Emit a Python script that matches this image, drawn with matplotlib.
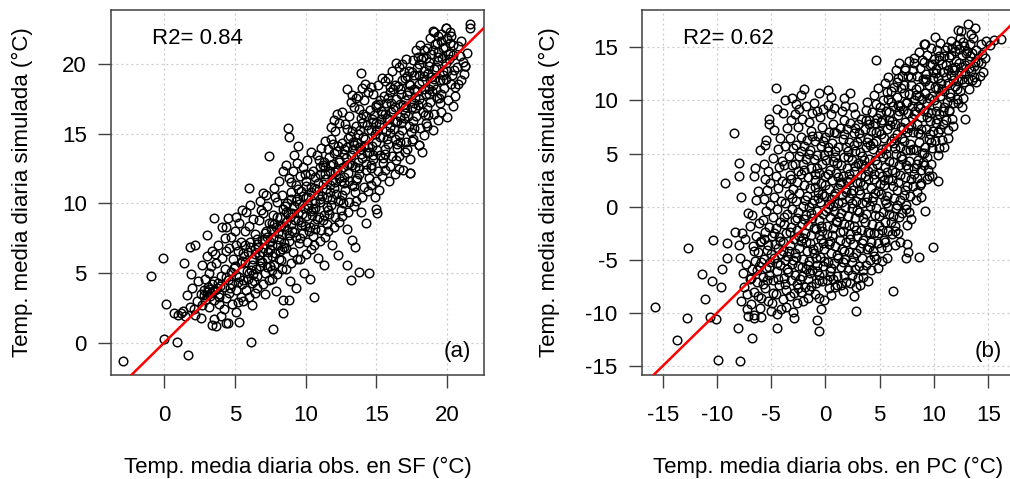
import numpy as np
import matplotlib.pyplot as plt

plt.rcParams['font.family'] = ['Liberation Sans', 'DejaVu Sans']
plt.rcParams['axes.unicode_minus'] = False

pts_sf = [
    (-2.9, -1.3), (-0.9, 4.8), (-0.1, 6.1), (0.1, 2.8), (0.0, 0.25), (0.9, 0.07), (1.7, -0.9),
    (0.7, 2.1), (1.2, 2.1), (1.4, 5.7), (1.8, 6.9), (2.2, 7.0), (3.0, 7.75), (3.5, 8.95),
    (4.5, 8.95), (4.1, 8.3), (3.4, 1.3), (4.4, 1.4), (5.3, 1.5), (5.1, 2.2), (6.15, 0.07),
    (7.7, 1.0), (8.4, 2.1), (6.0, 11.1), (7.0, 10.75), (7.4, 13.4), (8.75, 15.4), (8.8, 14.8),
    (9.45, 14.1), (10.6, 3.25), (13.95, 19.4), (12.9, 18.2), (13.3, 17.8), (13.7, 17.7),
    (15.05, 9.3), (14.5, 5.0), (13.8, 5.1), (13.2, 4.5), (17.4, 12.2), (16.6, 12.5),
    (18.0, 14.2), (20.8, 18.6), (21.3, 19.9), (21.6, 22.9), (21.6, 22.6), (19.0, 22.4), (19.9, 22.6),
    (1.0, 2.0), (1.3, 2.3), (1.5, 1.9), (1.8, 2.6), (2.1, 2.4), (2.3, 3.0), (1.6, 3.4), (2.0, 3.9),
    (2.4, 4.4), (1.9, 4.9), (2.6, 1.8), (2.2, 2.0),
    (2.6, 3.5), (2.8, 3.8), (3.0, 3.4), (3.1, 4.0), (3.3, 3.6), (3.4, 4.2), (2.9, 4.6), (3.2, 5.0),
    (2.7, 5.6), (3.0, 6.2), (3.4, 6.6), (2.7, 2.7), (3.2, 2.6), (3.5, 3.1), (2.9, 3.1), (3.3, 5.5),
    (3.5, 1.7), (3.7, 1.2),
    (3.6, 3.8), (3.8, 4.3), (3.9, 3.5), (4.0, 4.8), (4.2, 4.0), (4.3, 5.3), (3.7, 5.7), (4.1, 6.1),
    (4.4, 6.6), (3.8, 7.0), (4.3, 7.5), (3.9, 2.8), (4.2, 2.4), (4.4, 3.2), (4.0, 1.9), (4.5, 1.4),
    (4.4, 8.3), (3.6, 6.4), (4.5, 4.5),
    (4.6, 3.6), (4.7, 5.1), (4.8, 4.2), (4.9, 6.0), (5.0, 5.5), (5.1, 3.8), (5.2, 6.6), (5.3, 4.7),
    (5.4, 7.2), (4.7, 7.6), (5.0, 8.0), (5.3, 8.6), (4.8, 2.8), (5.2, 2.9), (5.4, 3.3), (5.5, 5.9),
    (4.6, 6.8), (5.1, 7.0), (5.5, 4.2), (5.5, 9.5), (5.1, 9.0),
    (5.6, 4.5), (5.7, 5.8), (5.8, 3.8), (5.9, 6.5), (6.0, 5.0), (6.1, 7.2), (6.2, 4.3), (6.3, 6.0),
    (6.4, 7.8), (5.7, 7.0), (6.0, 8.4), (6.3, 8.9), (5.8, 9.4), (6.1, 9.9), (5.6, 3.0), (6.0, 3.3),
    (6.4, 3.6), (6.2, 2.7), (6.5, 5.3), (6.4, 6.7), (5.9, 4.6), (6.2, 5.6),
    (6.6, 4.8), (6.7, 6.3), (6.8, 5.5), (6.9, 7.4), (7.0, 6.8), (7.1, 5.0), (7.2, 8.0), (7.3, 6.1),
    (7.4, 8.6), (6.7, 8.8), (7.0, 9.3), (7.3, 9.8), (6.8, 10.2), (7.2, 10.6), (6.6, 3.9), (7.0, 4.2),
    (7.4, 4.5), (7.1, 3.5), (7.5, 7.2), (6.9, 5.8), (7.5, 5.5), (7.3, 7.6), (6.6, 7.1),
    (7.6, 6.2), (7.7, 7.5), (7.8, 5.6), (7.9, 8.3), (8.0, 7.0), (8.1, 6.0), (8.2, 9.0), (8.3, 7.8),
    (8.4, 9.6), (7.7, 9.2), (8.0, 10.1), (8.3, 10.6), (7.8, 11.1), (8.1, 11.6), (8.4, 12.3), (7.6, 4.6),
    (8.0, 4.9), (8.3, 5.3), (7.9, 3.7), (8.4, 3.1), (8.5, 8.4), (7.6, 8.6), (8.2, 6.6), (8.5, 6.9),
    (8.6, 6.8), (8.7, 8.1), (8.8, 7.3), (8.9, 9.0), (9.0, 8.5), (9.1, 6.5), (9.2, 9.8), (9.3, 7.6),
    (9.4, 10.3), (8.7, 10.0), (9.0, 10.8), (9.3, 11.3), (8.8, 11.8), (9.1, 12.3), (9.4, 12.9), (8.6, 5.3),
    (9.0, 5.7), (9.4, 6.0), (8.9, 4.4), (9.3, 3.9), (8.8, 3.1), (9.5, 8.8), (8.6, 12.8), (9.2, 13.5),
    (9.5, 9.3), (8.6, 9.4),
    (9.6, 7.5), (9.7, 8.7), (9.8, 7.9), (9.9, 9.7), (10.0, 9.1), (10.1, 7.2), (10.2, 10.5), (10.3, 8.3),
    (10.4, 11.2), (9.7, 10.9), (10.0, 11.6), (10.3, 12.1), (9.8, 12.6), (10.1, 13.1), (10.4, 13.7),
    (9.6, 6.0), (10.0, 6.4), (10.4, 6.7), (9.9, 5.0), (10.3, 4.6), (10.5, 9.6), (9.6, 12.0), (10.2, 9.9),
    (10.5, 7.7),
    (10.6, 8.5), (10.7, 9.7), (10.8, 8.9), (10.9, 10.6), (11.0, 10.1), (11.1, 8.1), (11.2, 11.4),
    (11.3, 9.2), (11.4, 12.1), (10.7, 11.9), (11.0, 12.6), (11.3, 13.0), (10.8, 13.5), (11.1, 14.0),
    (11.4, 14.5), (10.6, 7.0), (11.0, 7.3), (11.4, 7.6), (10.9, 6.1), (11.3, 5.6), (11.5, 10.5),
    (10.6, 11.1), (11.2, 12.8), (11.5, 8.5),
    (11.6, 9.5), (11.7, 10.8), (11.8, 9.9), (11.9, 11.7), (12.0, 11.1), (12.1, 9.0), (12.2, 12.4),
    (12.3, 10.2), (12.4, 13.1), (11.7, 12.8), (12.0, 13.6), (12.3, 14.1), (11.8, 14.6), (12.1, 15.2),
    (12.4, 15.8), (11.6, 8.0), (12.0, 8.3), (12.4, 8.7), (11.9, 7.0), (12.3, 6.3), (12.5, 11.6),
    (11.6, 13.9), (12.2, 16.4), (12.5, 9.5), (12.0, 16.0), (11.8, 15.5),
    (12.6, 10.6), (12.7, 11.9), (12.8, 11.0), (12.9, 12.8), (13.0, 12.2), (13.1, 10.1), (13.2, 13.5),
    (13.3, 11.3), (13.4, 14.2), (12.7, 13.9), (13.0, 14.7), (13.3, 15.2), (12.8, 15.7), (13.1, 16.3),
    (13.4, 16.9), (12.6, 9.1), (13.0, 9.4), (13.4, 9.8), (12.9, 8.2), (13.3, 7.4), (13.5, 12.6),
    (12.6, 16.6), (13.2, 17.3), (13.5, 10.8), (12.9, 5.6), (13.5, 6.9),
    (13.6, 11.7), (13.7, 13.0), (13.8, 12.1), (13.9, 13.9), (14.0, 13.3), (14.1, 11.2), (14.2, 14.6),
    (14.3, 12.4), (14.4, 15.3), (13.7, 15.0), (14.0, 15.8), (14.3, 16.3), (13.8, 16.8), (14.1, 17.4),
    (14.4, 18.0), (13.6, 10.2), (14.0, 10.5), (14.4, 10.9), (13.9, 9.4), (14.3, 8.6), (14.5, 13.7),
    (13.6, 17.6), (14.2, 18.6), (14.5, 11.8), (14.0, 18.3),
    (14.6, 12.8), (14.7, 14.1), (14.8, 13.2), (14.9, 15.0), (15.0, 14.4), (15.1, 12.3), (15.2, 15.7),
    (15.3, 13.5), (15.4, 16.4), (14.7, 16.1), (15.0, 16.9), (15.3, 17.4), (14.8, 17.9), (15.1, 18.5),
    (15.4, 19.0), (14.6, 11.3), (15.0, 11.6), (15.4, 12.0), (14.9, 10.5), (15.2, 11.0), (15.5, 14.8),
    (14.6, 18.4), (15.5, 12.9), (15.0, 9.6),
    (15.6, 13.9), (15.7, 15.2), (15.8, 14.3), (15.9, 16.1), (16.0, 15.5), (16.1, 13.4), (16.2, 16.8),
    (16.3, 14.6), (16.4, 17.5), (15.7, 17.2), (16.0, 18.0), (16.3, 18.5), (15.8, 19.0), (16.1, 19.5),
    (16.4, 20.1), (15.6, 12.4), (16.0, 12.7), (16.4, 13.1), (15.9, 11.6), (16.3, 12.1), (16.5, 15.9),
    (15.6, 18.8), (16.5, 14.0),
    (16.6, 14.9), (16.7, 16.2), (16.8, 15.3), (16.9, 17.1), (17.0, 16.5), (17.1, 14.4), (17.2, 17.8),
    (17.3, 15.6), (17.4, 18.5), (16.7, 18.2), (17.0, 19.0), (17.3, 19.5), (16.8, 20.0), (17.1, 20.4),
    (17.4, 13.2), (16.6, 13.4), (17.0, 13.7), (16.9, 12.4), (17.4, 12.2), (17.5, 16.9), (16.6, 19.8),
    (17.5, 14.5), (17.2, 13.9),
    (17.6, 15.9), (17.7, 17.2), (17.8, 16.3), (17.9, 18.1), (18.0, 17.5), (18.1, 15.4), (18.2, 18.8),
    (18.3, 16.6), (18.4, 19.5), (17.7, 19.2), (18.0, 20.0), (18.3, 20.5), (17.8, 21.0), (18.1, 21.4),
    (17.6, 14.6), (18.0, 14.2), (18.4, 14.9), (18.5, 17.9), (17.6, 20.3), (18.5, 15.8), (18.2, 13.7),
    (18.4, 21.0),
    (18.6, 16.9), (18.7, 18.2), (18.8, 17.3), (18.9, 19.1), (19.0, 18.5), (19.1, 16.4), (19.2, 19.8),
    (19.3, 17.6), (19.4, 20.5), (18.7, 20.2), (19.0, 21.0), (19.3, 21.5), (18.8, 21.9), (19.1, 22.3),
    (18.6, 15.6), (19.0, 15.3), (19.4, 16.0), (19.5, 18.9), (18.6, 21.2), (19.5, 17.2), (19.4, 22.0),
    (19.6, 17.9), (19.7, 19.2), (19.8, 18.3), (19.9, 20.1), (20.0, 19.5), (20.1, 17.4), (20.2, 20.8),
    (20.3, 18.6), (20.4, 21.4), (19.7, 21.2), (20.0, 21.9), (20.3, 22.0), (19.9, 22.6), (19.6, 16.6),
    (20.0, 16.2), (20.4, 17.0), (20.5, 19.6), (19.6, 22.2), (20.2, 22.3),
    (20.6, 18.4), (20.7, 19.8), (20.9, 20.6), (21.0, 18.9), (21.2, 19.3), (21.1, 20.2), (21.4, 20.8),
    (21.3, 19.9), (20.8, 21.3), (20.6, 17.7), (21.0, 21.7),
    # denser core of the band
    (3.15, 3.85), (3.55, 4.45), (3.85, 3.25), (4.35, 4.75), (4.65, 3.95), (4.95, 5.35), (5.25, 4.35),
    (5.45, 5.75), (5.65, 6.25), (5.85, 5.15), (6.05, 6.85), (6.25, 4.95), (6.45, 6.35), (6.55, 7.45),
    (6.75, 5.95), (6.95, 6.55), (7.15, 7.85), (7.25, 5.45), (7.45, 6.75), (7.55, 8.15), (7.65, 7.05),
    (7.85, 6.45), (7.95, 9.05), (8.15, 7.45), (8.25, 8.35), (8.45, 7.15), (8.55, 9.85), (8.65, 8.65),
    (8.85, 7.75), (8.95, 10.35), (9.05, 9.35), (9.15, 7.95), (9.25, 8.85), (9.45, 11.05), (9.55, 9.95),
    (9.65, 8.45), (9.85, 10.55), (9.95, 8.35), (10.05, 11.25), (10.15, 9.65), (10.25, 8.05),
    (10.35, 10.85), (10.45, 9.15), (10.55, 12.35), (10.65, 10.05), (10.85, 11.45), (10.95, 9.05),
    (11.05, 12.15), (11.15, 10.55), (11.25, 8.85), (11.35, 12.65), (11.45, 11.05), (11.55, 9.75),
    (11.65, 13.35), (11.75, 11.35), (11.85, 10.35), (11.95, 12.85), (12.05, 12.25), (12.15, 10.65),
    (12.25, 13.75), (12.35, 11.85), (12.45, 10.25), (12.55, 14.35), (12.65, 12.65), (12.75, 11.45),
    (12.85, 13.25), (12.95, 14.05), (13.05, 11.65), (13.15, 14.85), (13.25, 12.75), (13.35, 13.95),
    (13.45, 11.25), (13.55, 15.55), (13.65, 14.35), (13.75, 12.55), (13.85, 15.25), (13.95, 13.55),
    (14.05, 16.45), (14.15, 14.15), (14.25, 12.85), (14.35, 15.65), (14.45, 14.05), (14.55, 16.75),
    (14.65, 15.25), (14.75, 13.45), (14.85, 16.35), (14.95, 15.75), (15.05, 13.85), (15.15, 17.15),
    (15.25, 14.75), (15.35, 16.05), (15.45, 13.25), (15.55, 17.75), (15.65, 16.45), (15.75, 14.65),
    (15.85, 17.55), (15.95, 15.05), (16.05, 16.55), (16.15, 18.25), (16.25, 15.35), (16.35, 16.95),
    (16.45, 14.25), (16.55, 18.45), (16.65, 17.15), (16.75, 15.75), (16.85, 18.85), (16.95, 16.15),
    (17.05, 17.45), (17.15, 19.15), (17.25, 16.25), (17.35, 18.05), (17.45, 15.15), (17.55, 19.45),
    (17.65, 18.25), (17.75, 16.85), (17.85, 19.75), (17.95, 17.05), (18.05, 18.55), (18.15, 20.35),
    (18.25, 17.25), (18.35, 19.15), (18.45, 16.35), (18.55, 20.45), (18.65, 19.35), (18.75, 17.85),
    (18.85, 20.75), (18.95, 18.05), (19.05, 19.65), (19.15, 21.45), (19.25, 18.25), (19.35, 20.25),
    (19.45, 17.55), (19.55, 21.65), (19.65, 20.45), (19.75, 18.85), (19.85, 21.25), (19.95, 18.95),
    (20.15, 20.35), (20.25, 21.55), (20.35, 19.25), (20.45, 20.65),
    (5.05, 4.85), (5.55, 6.45), (6.15, 5.25), (6.65, 6.85), (7.05, 7.45), (7.35, 6.55), (7.75, 8.55),
    (8.05, 7.85), (8.35, 6.75), (8.75, 9.35), (9.05, 8.05), (9.35, 10.15), (9.75, 9.25), (10.05, 10.45),
    (10.35, 9.45), (10.75, 11.05), (11.05, 10.35), (11.35, 11.75), (11.75, 12.35), (12.05, 11.55),
    (12.35, 12.95), (12.75, 13.55), (13.05, 12.85), (13.35, 14.45), (13.75, 14.05), (14.05, 14.75),
    (14.35, 13.65), (14.75, 15.85), (15.05, 15.25), (15.35, 16.65), (15.75, 16.15), (16.05, 17.25),
    (16.35, 15.85), (16.75, 17.85), (17.05, 16.95), (17.35, 18.55), (17.75, 17.65), (18.05, 19.25),
    (18.35, 18.25), (18.75, 19.85), (19.05, 18.95), (19.35, 20.85), (19.75, 19.55), (20.05, 20.75),
    (6.35, 4.45), (7.65, 5.25), (8.25, 5.95), (9.55, 7.15), (10.65, 8.15), (11.65, 9.25), (12.65, 10.05),
    (13.65, 11.85), (14.65, 12.55), (15.65, 13.55), (16.65, 14.45), (17.65, 15.45), (18.65, 16.35),
    (5.75, 8.05), (6.85, 9.55), (7.85, 10.45), (8.95, 11.55), (9.95, 12.15), (10.95, 13.15),
    (11.95, 14.25), (12.95, 15.35), (13.95, 16.15), (14.95, 17.05), (15.95, 18.35), (16.95, 19.45),
    (17.95, 20.55), (3.25, 3.35), (3.45, 3.75), (3.75, 3.95), (3.05, 3.65), (2.85, 3.45), (3.95, 4.05),
]

# panel (b): observed daily mean temp at PC vs simulated
pts_pc = [
    (-15.7, -9.4), (-13.7, -12.6), (-12.8, -10.5), (-12.7, -3.9), (-11.4, -6.3), (-11.1, -8.7),
    (-10.6, -10.4), (-10.1, -10.6), (-10.5, -7.0), (-10.4, -3.1), (-9.95, -14.45), (-9.6, -7.6),
    (-9.5, -5.9), (-9.1, -3.4), (-9.1, -4.8), (-9.3, 2.2), (-8.4, 6.9), (-7.95, 4.1), (-7.95, 2.9),
    (-7.8, 0.9), (-8.3, -2.4), (-8.0, -3.6), (-8.1, -11.4), (-7.9, -14.5), (-6.8, -12.4), (-6.6, -10.5),
    (-6.6, 2.9), (-7.1, -0.6), (-6.0, 5.3), (-5.7, 4.0), (-5.6, 5.8), (-5.2, 8.3), (-4.6, 11.2),
    (-4.5, 9.2), (-4.5, -11.4), (-2.9, -10.5), (-3.7, 10.0), (-3.1, 10.2), (-2.7, 9.7), (-2.0, 11.1),
    (-2.3, 10.5), (-0.6, 10.7), (0.2, 11.0), (0.5, 10.3), (2.3, 10.7), (1.7, 10.2), (3.8, 9.9),
    (4.7, 13.8), (-0.8, -10.7), (-0.6, -11.7), (2.8, -9.8), (6.2, -7.9), (7.4, -4.8), (7.6, -4.3),
    (8.6, -4.7), (9.9, -3.8), (7.5, -3.5), (9.15, -0.4), (10.4, 2.4), (9.5, 2.9), (8.8, 2.2),
    (12.9, 8.3), (11.3, 6.5), (13.55, 11.9), (14.2, 12.3), (14.3, 13.5), (16.2, 15.8), (13.1, 17.2),
    (13.4, 16.3), (13.8, 16.8), (12.2, 16.6), (10.1, 16.0), (9.1, 15.3),
    (-7.8, -8.9), (-7.5, -7.6), (-7.2, -9.6), (-7.6, -6.2), (-7.3, -5.4), (-7.9, -4.8), (-7.1, -10.3),
    (-7.4, -3.0), (-7.0, -1.8), (-7.7, -2.5), (-7.2, -8.2), (-7.0, -6.8),
    (-6.9, -9.2), (-6.6, -8.0), (-6.3, -7.1), (-6.8, -5.9), (-6.5, -5.1), (-6.2, -4.3), (-6.7, -3.7),
    (-6.4, -2.8), (-6.1, -1.5), (-6.8, -0.8), (-6.4, 0.6), (-6.2, 1.5), (-6.6, -10.2), (-6.0, -9.5),
    (-6.9, -6.7), (-6.3, -6.0), (-6.0, -3.3), (-6.5, 3.6),
    (-5.9, -8.6), (-5.6, -7.7), (-5.3, -8.9), (-5.8, -6.6), (-5.5, -5.8), (-5.2, -6.4), (-5.7, -4.9),
    (-5.4, -4.1), (-5.1, -5.2), (-5.9, -3.2), (-5.6, -2.4), (-5.3, -3.6), (-5.8, -1.3), (-5.5, -0.4),
    (-5.2, -1.9), (-5.7, 0.7), (-5.4, 1.6), (-5.1, 0.2), (-5.6, 2.6), (-5.3, 3.4), (-5.0, -9.8),
    (-5.9, -10.4), (-5.1, 2.2), (-5.5, 6.3), (-5.2, 7.8),
    (-4.9, -9.1), (-4.6, -8.2), (-4.3, -7.4), (-4.8, -6.9), (-4.5, -6.1), (-4.2, -5.5), (-4.7, -4.8),
    (-4.4, -3.9), (-4.1, -4.5), (-4.9, -2.8), (-4.6, -2.0), (-4.3, -2.9), (-4.8, -1.0), (-4.5, -0.2),
    (-4.2, -1.4), (-4.7, 0.9), (-4.4, 1.8), (-4.1, 0.5), (-4.6, 2.9), (-4.3, 3.7), (-4.0, 2.4),
    (-4.8, 4.6), (-4.4, 5.4), (-4.2, 6.5), (-4.7, 7.2), (-4.1, -9.6), (-4.5, -10.1), (-4.0, 4.3),
    (-3.9, -8.7), (-3.6, -7.8), (-3.3, -8.4), (-3.8, -6.7), (-3.5, -5.9), (-3.2, -6.9), (-3.7, -5.0),
    (-3.4, -4.2), (-3.1, -5.4), (-3.9, -3.3), (-3.6, -2.5), (-3.3, -3.6), (-3.8, -1.6), (-3.5, -0.7),
    (-3.2, -1.9), (-3.7, 0.3), (-3.4, 1.2), (-3.1, -0.2), (-3.6, 2.2), (-3.3, 3.0), (-3.0, 1.7),
    (-3.8, 3.9), (-3.4, 4.8), (-3.1, 3.9), (-3.7, 5.7), (-3.3, 6.5), (-3.0, 5.5), (-3.5, 7.4),
    (-3.2, 8.2), (-3.9, 8.8), (-3.6, -9.4), (-3.0, -9.9),
    (-2.9, -8.1), (-2.6, -7.3), (-2.3, -8.0), (-2.8, -6.4), (-2.5, -5.6), (-2.2, -6.5), (-2.7, -4.7),
    (-2.4, -3.9), (-2.1, -4.9), (-2.9, -3.0), (-2.6, -2.2), (-2.3, -3.2), (-2.8, -1.3), (-2.5, -0.5),
    (-2.2, -1.6), (-2.7, 0.5), (-2.4, 1.3), (-2.1, 0.1), (-2.6, 2.3), (-2.3, 3.1), (-2.0, 2.0),
    (-2.8, 4.0), (-2.4, 4.8), (-2.1, 4.0), (-2.7, 5.8), (-2.3, 6.6), (-2.0, 5.7), (-2.5, 7.5),
    (-2.2, 8.3), (-2.8, 8.7), (-2.4, 9.2), (-2.6, -9.1), (-2.1, -8.9),
    (-1.9, -7.6), (-1.6, -6.8), (-1.3, -7.5), (-1.8, -5.9), (-1.5, -5.1), (-1.2, -6.0), (-1.7, -4.2),
    (-1.4, -3.4), (-1.1, -4.4), (-1.9, -2.5), (-1.6, -1.7), (-1.3, -2.7), (-1.8, -0.8), (-1.5, 0.0),
    (-1.2, -1.1), (-1.7, 1.0), (-1.4, 1.8), (-1.1, 0.6), (-1.6, 2.8), (-1.3, 3.6), (-1.0, 2.5),
    (-1.8, 4.5), (-1.4, 5.3), (-1.1, 4.5), (-1.7, 6.3), (-1.3, 7.1), (-1.0, 6.2), (-1.5, 8.0),
    (-1.2, 8.8), (-1.8, 9.5), (-1.1, 9.8), (-1.6, -8.6), (-1.0, -8.2),
    (-0.9, -7.2), (-0.6, -6.4), (-0.3, -7.0), (-0.8, -5.5), (-0.5, -4.7), (-0.2, -5.6), (-0.7, -3.8),
    (-0.4, -3.0), (-0.1, -4.0), (-0.9, -2.1), (-0.6, -1.3), (-0.3, -2.3), (-0.8, -0.4), (-0.5, 0.4),
    (-0.2, -0.7), (-0.7, 1.4), (-0.4, 2.2), (-0.1, 1.0), (-0.6, 3.2), (-0.3, 4.0), (0.0, 2.9),
    (-0.8, 4.9), (-0.4, 5.7), (-0.1, 4.9), (-0.7, 6.7), (-0.3, 7.5), (0.0, 6.6), (-0.5, 8.4),
    (-0.2, 9.2), (-0.8, 9.0), (-0.6, -8.6), (-0.1, -8.8), (-0.4, -9.6),
    (0.1, -6.9), (0.4, -6.1), (0.7, -6.8), (0.2, -5.2), (0.5, -4.4), (0.8, -5.3), (0.3, -3.5),
    (0.6, -2.7), (0.9, -3.7), (0.1, -1.8), (0.4, -1.0), (0.7, -2.0), (0.2, -0.1), (0.5, 0.7),
    (0.8, -0.4), (0.3, 1.7), (0.6, 2.5), (0.9, 1.3), (0.4, 3.5), (0.7, 4.3), (1.0, 3.2), (0.2, 5.2),
    (0.6, 6.0), (0.9, 5.2), (0.3, 7.0), (0.7, 7.8), (1.0, 6.9), (0.5, 8.7), (0.8, 9.3), (0.2, 9.6),
    (0.5, -8.3), (0.9, -7.6), (0.3, -7.7),
    (1.1, -6.5), (1.4, -5.7), (1.7, -6.4), (1.2, -4.8), (1.5, -4.0), (1.8, -4.9), (1.3, -3.1),
    (1.6, -2.3), (1.9, -3.3), (1.1, -1.4), (1.4, -0.6), (1.7, -1.6), (1.2, 0.3), (1.5, 1.1),
    (1.8, 0.0), (1.3, 2.1), (1.6, 2.9), (1.9, 1.7), (1.4, 3.9), (1.7, 4.7), (2.0, 3.6), (1.2, 5.6),
    (1.6, 6.4), (1.9, 5.6), (1.3, 7.4), (1.7, 8.2), (2.0, 7.3), (1.5, 9.0), (1.8, 9.5), (1.1, -7.4),
    (1.6, -7.9), (1.9, -7.1),
    (2.1, -6.0), (2.4, -5.2), (2.7, -5.9), (2.2, -4.3), (2.5, -3.5), (2.8, -4.4), (2.3, -2.6),
    (2.6, -1.8), (2.9, -2.8), (2.1, -0.9), (2.4, -0.1), (2.7, -1.1), (2.2, 0.8), (2.5, 1.6),
    (2.8, 0.5), (2.3, 2.6), (2.6, 3.4), (2.9, 2.2), (2.4, 4.4), (2.7, 5.2), (3.0, 4.1), (2.2, 6.1),
    (2.6, 6.9), (2.9, 6.1), (2.3, 7.9), (2.7, 8.7), (3.0, 7.8), (2.5, 9.4), (2.8, -7.6), (2.3, -7.2),
    (3.0, -6.7), (2.6, -8.4),
    (3.1, -5.6), (3.4, -4.8), (3.7, -5.5), (3.2, -3.9), (3.5, -3.1), (3.8, -4.0), (3.3, -2.2),
    (3.6, -1.4), (3.9, -2.4), (3.1, -0.5), (3.4, 0.3), (3.7, -0.7), (3.2, 1.2), (3.5, 2.0),
    (3.8, 0.9), (3.3, 3.0), (3.6, 3.8), (3.9, 2.6), (3.4, 4.8), (3.7, 5.6), (4.0, 4.5), (3.2, 6.5),
    (3.6, 7.3), (3.9, 6.5), (3.3, 8.3), (3.7, 9.1), (4.0, 8.2), (3.5, -6.6), (3.9, -7.0), (3.2, -7.4),
    (4.1, -5.0), (4.4, -4.2), (4.7, -4.9), (4.2, -3.3), (4.5, -2.5), (4.8, -3.4), (4.3, -1.6),
    (4.6, -0.8), (4.9, -1.8), (4.1, 0.1), (4.4, 0.9), (4.7, -0.1), (4.2, 1.8), (4.5, 2.6),
    (4.8, 1.5), (4.3, 3.6), (4.6, 4.4), (4.9, 3.2), (4.4, 5.4), (4.7, 6.2), (5.0, 5.1), (4.2, 7.1),
    (4.6, 7.9), (4.9, 7.1), (4.3, 8.9), (4.7, 9.7), (5.0, 8.8), (4.5, 10.5), (4.8, 11.2), (4.2, -6.0),
    (4.8, -5.8),
    (5.1, -3.9), (5.4, -3.1), (5.7, -3.8), (5.2, -2.2), (5.5, -1.4), (5.8, -2.3), (5.3, -0.5),
    (5.6, 0.3), (5.9, -0.7), (5.1, 1.2), (5.4, 2.0), (5.7, 1.0), (5.2, 2.9), (5.5, 3.7), (5.8, 2.6),
    (5.3, 4.7), (5.6, 5.5), (5.9, 4.3), (5.4, 6.5), (5.7, 7.3), (6.0, 6.2), (5.2, 8.2), (5.6, 9.0),
    (5.9, 8.2), (5.3, 10.0), (5.7, 10.8), (6.0, 9.9), (5.5, 11.6), (5.8, 12.2), (5.2, -5.1), (5.7, -4.8),
    (6.1, -2.6), (6.4, -1.8), (6.7, -2.5), (6.2, -0.9), (6.5, -0.1), (6.8, -1.0), (6.3, 0.8),
    (6.6, 1.6), (6.9, 0.6), (6.1, 2.5), (6.4, 3.3), (6.7, 2.3), (6.2, 4.2), (6.5, 5.0), (6.8, 3.9),
    (6.3, 6.0), (6.6, 6.8), (6.9, 5.6), (6.4, 7.8), (6.7, 8.6), (7.0, 7.5), (6.2, 9.5), (6.6, 10.3),
    (6.9, 9.5), (6.3, 11.3), (6.7, 12.1), (7.0, 11.2), (6.5, 12.9), (6.8, 13.5), (6.4, -3.6), (6.9, -3.3),
    (7.1, -0.6), (7.4, 0.2), (7.7, -0.5), (7.2, 1.1), (7.5, 1.9), (7.8, 1.0), (7.3, 2.8), (7.6, 3.6),
    (7.9, 2.6), (7.1, 4.5), (7.4, 5.3), (7.7, 4.3), (7.2, 6.2), (7.5, 7.0), (7.8, 5.9), (7.3, 8.0),
    (7.6, 8.8), (7.9, 7.6), (7.4, 9.8), (7.7, 10.6), (8.0, 9.5), (7.2, 11.5), (7.6, 12.3), (7.9, 11.5),
    (7.3, 13.1), (7.7, 13.7), (7.5, -1.7), (7.9, -1.2),
    (8.1, 1.9), (8.4, 2.7), (8.7, 2.0), (8.2, 3.6), (8.5, 4.4), (8.8, 3.5), (8.3, 5.3), (8.6, 6.1),
    (8.9, 5.1), (8.1, 7.0), (8.4, 7.8), (8.7, 6.8), (8.2, 8.7), (8.5, 9.5), (8.8, 8.4), (8.3, 10.5),
    (8.6, 11.3), (8.9, 10.1), (8.4, 12.3), (8.7, 13.1), (9.0, 12.0), (8.2, 14.0), (8.6, 14.6),
    (8.9, 13.8), (8.3, 0.6), (8.8, 0.9),
    (9.1, 3.9), (9.4, 4.7), (9.7, 4.0), (9.2, 5.6), (9.5, 6.4), (9.8, 5.5), (9.3, 7.3), (9.6, 8.1),
    (9.9, 7.1), (9.1, 9.0), (9.4, 9.8), (9.7, 8.8), (9.2, 10.7), (9.5, 11.5), (9.8, 10.4), (9.3, 12.5),
    (9.6, 13.3), (9.9, 12.1), (9.4, 14.3), (9.7, 14.9), (10.0, 13.9), (9.2, 15.3), (9.8, 2.9), (9.4, 2.6),
    (10.1, 6.2), (10.4, 7.0), (10.7, 6.3), (10.2, 7.9), (10.5, 8.7), (10.8, 7.8), (10.3, 9.6),
    (10.6, 10.4), (10.9, 9.4), (10.1, 11.3), (10.4, 12.1), (10.7, 11.1), (10.2, 13.0), (10.5, 13.8),
    (10.8, 12.7), (10.3, 14.8), (10.6, 15.4), (10.9, 14.2), (10.4, 4.9), (10.9, 5.6),
    (11.1, 8.2), (11.4, 9.0), (11.7, 8.3), (11.2, 9.9), (11.5, 10.7), (11.8, 9.8), (11.3, 11.6),
    (11.6, 12.4), (11.9, 11.4), (11.1, 13.3), (11.4, 14.1), (11.7, 13.1), (11.2, 15.0), (11.6, 15.6),
    (11.9, 14.7), (11.3, 7.2), (11.8, 7.6),
    (12.1, 10.1), (12.4, 10.9), (12.7, 10.2), (12.2, 11.8), (12.5, 12.6), (12.8, 11.7), (12.3, 13.5),
    (12.6, 14.3), (12.9, 13.3), (12.1, 15.2), (12.4, 15.9), (12.8, 15.1), (12.5, 16.5), (12.6, 9.4),
    (13.1, 12.0), (13.4, 12.8), (13.7, 12.2), (13.2, 13.7), (13.5, 14.5), (13.8, 13.6), (13.3, 15.3),
    (13.6, 15.9), (13.9, 14.8), (13.2, 11.1), (13.9, 11.7),
    (14.1, 13.6), (14.4, 14.4), (14.7, 14.0), (14.3, 15.3), (14.8, 15.6), (14.5, 12.7), (15.2, 15.2),
    (15.5, 15.7),
    # denser core
    (-2.85, -4.35), (-2.45, -2.75), (-2.15, -5.65), (-1.95, -1.15), (-1.75, -3.35), (-1.45, -6.25),
    (-1.25, 0.35), (-1.05, -2.05), (-0.85, -4.85), (-0.65, 0.85), (-0.45, -1.85), (-0.25, -3.45),
    (-0.05, 2.05), (0.15, -2.55), (0.35, 0.25), (0.55, -5.75), (0.75, 1.05), (0.95, -1.35),
    (1.15, 2.75), (1.35, -2.35), (1.55, 0.45), (1.75, -4.15), (1.95, 2.45), (2.15, -1.75),
    (2.35, 1.25), (2.55, -4.75), (2.75, 3.85), (2.95, -0.35), (3.15, 2.35), (3.35, -3.45),
    (3.55, 4.35), (3.75, 0.45), (3.95, 3.35), (4.15, -2.45), (4.35, 5.95), (4.55, 1.25), (4.75, 4.05),
    (4.95, -0.85), (5.15, 6.85), (5.35, 2.55), (5.55, 4.95), (5.75, -0.05), (5.95, 7.65), (6.15, 3.45),
    (6.35, 6.45), (6.55, 0.15), (6.75, 9.05), (6.95, 4.75), (7.15, 7.35), (7.35, 1.55), (7.55, 9.85),
    (7.75, 5.35), (7.95, 8.35), (8.15, 3.05), (8.35, 11.05), (8.55, 6.95), (8.75, 9.25), (8.95, 4.25),
    (9.15, 11.85), (9.35, 8.45), (9.55, 10.25), (9.75, 6.05), (9.95, 12.65), (10.15, 9.05),
    (10.35, 11.15), (10.55, 7.35), (10.75, 13.45), (10.95, 10.85), (11.15, 12.25), (11.35, 9.15),
    (11.55, 14.25), (11.75, 11.95), (11.95, 13.15), (12.15, 11.05), (12.35, 14.85), (12.55, 12.05),
    (12.95, 14.45), (13.25, 13.05), (-3.25, -2.35), (-3.55, -4.65), (-3.85, -0.95), (-4.15, -3.25),
    (-4.45, -5.35), (-4.75, -2.45), (-5.05, -4.45), (-5.35, -6.95), (-5.65, -3.05), (-5.95, -5.25),
    (-6.25, -8.45), (-6.55, -4.15), (-3.05, 0.85), (-2.55, 3.35), (-1.55, 4.95), (-0.75, 3.65),
    (0.25, 5.65), (1.05, 4.15), (2.05, 5.25), (3.05, 6.95), (4.05, 7.75), (5.05, 9.35), (6.05, 10.85),
    (7.05, 12.35), (8.05, 12.85), (9.05, 13.65), (2.45, -6.45), (1.45, -7.35), (0.45, -6.55),
    (-0.55, -6.95), (-1.55, -7.85), (-2.55, -7.65), (3.45, -5.95), (4.45, -4.65), (5.45, -3.35),
    (6.45, -2.25), (7.45, -0.25), (8.45, 1.35), (9.45, 3.45), (10.45, 5.55),
    (-3.45, -6.15), (-2.95, -5.05), (-2.65, -1.05), (-2.35, -6.85), (-2.05, -2.95), (-1.85, 0.65),
    (-1.65, -5.45), (-1.35, -0.55), (-1.15, -3.95), (-0.95, 1.85), (-0.75, -6.05), (-0.55, -2.65),
    (-0.35, 1.15), (-0.15, -5.15), (0.05, -0.45), (0.25, 3.05), (0.45, -3.25), (0.65, 0.05),
    (0.85, 4.65), (1.05, -4.55), (1.25, -0.95), (1.45, 2.35), (1.65, -5.25), (1.85, 1.35),
    (2.05, 4.65), (2.25, -3.05), (2.45, 0.35), (2.65, 5.85), (2.85, -2.15), (3.05, 1.55),
    (3.25, 4.05), (3.45, -1.05), (3.65, 2.85), (3.85, 6.05), (4.05, -3.75), (4.25, 0.55),
    (4.45, 3.05), (4.65, 7.05), (4.85, -2.45), (5.05, 2.15), (5.25, 5.45), (5.45, 0.65),
    (5.65, 3.25), (5.85, 8.95), (6.05, -1.45), (6.25, 1.95), (6.45, 5.55), (6.65, 9.55),
    (6.85, 2.95), (7.05, 6.45), (7.25, 10.75), (7.45, 3.95), (7.65, 7.45), (7.85, 12.25),
    (8.05, 5.45), (8.25, 9.05), (8.45, 4.05), (8.65, 10.45), (8.85, 7.35), (9.05, 5.05),
    (9.25, 12.05), (9.45, 8.95), (9.65, 6.85), (9.85, 13.45), (10.05, 10.05), (10.25, 8.25),
    (10.45, 14.15), (10.65, 11.65), (10.85, 9.05), (11.05, 14.75), (11.25, 12.85), (11.45, 10.35),
    (11.65, 14.95), (11.85, 12.85), (12.05, 13.75), (12.25, 9.75), (12.45, 13.15), (12.65, 15.55),
    (12.85, 12.55), (13.05, 14.65), (13.35, 14.15), (13.65, 13.25), (-4.35, -6.85), (-3.95, -4.15),
    (-4.65, -3.55), (-5.25, -5.65), (-3.75, -7.25), (-4.85, -8.15), (-5.75, -7.25), (-6.15, -5.55),
    (-3.15, 2.65), (-2.25, 5.25), (-1.25, 6.65), (-0.25, 6.15), (0.75, 7.05), (1.75, 6.85),
    (2.75, 7.45), (3.75, 8.15), (4.75, 8.35), (5.75, 10.15), (6.55, 11.75), (7.35, 12.85),
    (8.15, 13.55), (-1.95, 3.45), (-0.95, 3.05), (0.05, 4.35), (1.15, 1.75), (2.15, 3.05),
    (3.15, 5.15), (4.15, 5.85), (5.15, 7.95), (6.15, 8.05), (7.15, 9.15), (8.15, 10.05),
    (9.15, 10.75), (10.15, 12.55),
]

panels = [
    dict(pts=pts_sf, xlim=(-3.76, 22.62), ylim=(-2.32, 23.9), ticks=[0, 5, 10, 15, 20],
         yticks=[0, 5, 10, 15, 20], r2="R2= 0.84", tag="(a)",
         xlabel="Temp. media diaria obs. en SF (°C)", left=111, ylab_x=-0.208),
    dict(pts=pts_pc, xlim=(-16.91, 17.47), ylim=(-15.85, 18.52), ticks=[-15, -10, -5, 0, 5, 10, 15],
         yticks=[-15, -10, -5, 0, 5, 10, 15], r2="R2= 0.62", tag="(b)",
         xlabel="Temp. media diaria obs. en PC (°C)", left=642, ylab_x=-0.22),
]

W, H = 1010, 479
fig = plt.figure(figsize=(W / 100, H / 100), dpi=100)

for p in panels:
    ax = fig.add_axes([p['left'] / W, (H - 375) / H, 373 / W, 365 / H])
    xs = [a for a, b in p['pts']]
    ys = [b for a, b in p['pts']]
    ax.set_xlim(*p['xlim'])
    ax.set_ylim(*p['ylim'])
    ax.set_xticks(p['ticks'])
    ax.set_yticks(p['yticks'])
    ax.grid(True, color='#c8c8c8', linestyle=(0, (1.5, 2.5)), linewidth=0.9)
    ax.set_axisbelow(True)
    ax.plot(xs, ys, 'o', mfc='none', mec='black', ms=6.2, mew=1.05, zorder=2)
    lo = min(p['xlim'][0], p['ylim'][0]) - 1
    hi = max(p['xlim'][1], p['ylim'][1]) + 1
    ax.plot([lo, hi], [lo, hi], color='red', lw=1.8, zorder=3)
    for s in ax.spines.values():
        s.set_color('#404040')
        s.set_linewidth(1.1)
    ax.tick_params(axis='both', direction='out', length=9.5, width=1.0, color='#404040',
                   labelsize=16, labelcolor='black')
    ax.tick_params(axis='x', pad=12)
    ax.tick_params(axis='y', pad=8)
    ax.set_ylabel("Temp. media diaria simulada (°C)", fontsize=16)
    ax.yaxis.set_label_coords(p['ylab_x'], 0.5)
    ax.set_xlabel(p['xlabel'], fontsize=16, labelpad=22)
    ax.text(0.11, 0.923, p['r2'], transform=ax.transAxes, fontsize=16, va='center', ha='left')
    ax.text(0.965, 0.065, p['tag'], transform=ax.transAxes, fontsize=16, va='center', ha='right')

fig.savefig('out.png', dpi=100)
